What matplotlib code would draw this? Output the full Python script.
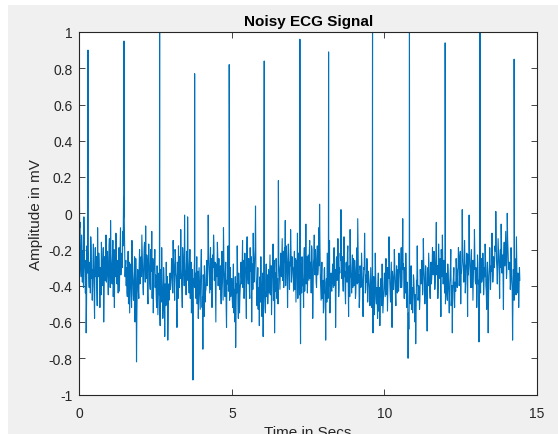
import numpy as np
import matplotlib
matplotlib.use("Agg")
import matplotlib.pyplot as plt
from matplotlib.patches import Rectangle

# ---- data ----
sample_period_s = 0.025          # each noise list: 40 samples per second
offset_b_s = 0.0125              # second list sits half a sample later

amplitude_mv = [
    0.18, -0.05, -0.31, -0.12, -0.38, -0.21, -0.02, -0.29, -0.44, -0.66, -0.18, -0.33,
    -0.22, -0.41, -0.27, -0.13, -0.36, -0.48, -0.25, -0.33, -0.58, -0.19, -0.30, -0.42,
    -0.08, -0.35, -0.27, -0.52, -0.31, -0.16, -0.40, -0.29, -0.60, -0.24, -0.37, -0.12,
    -0.34, -0.21, -0.45, -0.18, -0.30, -0.04, -0.27, -0.39, -0.15, -0.33, -0.52, -0.23,
    -0.11, -0.36, -0.26, -0.44, -0.19, -0.31, -0.08, -0.29,
    -0.22, -0.10, 0.09, -0.05, -0.35, -0.26,
    -0.30, -0.46, -0.21, -0.39, -0.55, -0.28, -0.42, -0.15, -0.36, -0.48, -0.31, -0.60,
    -0.25, -0.82, -0.40, -0.33, -0.47, -0.20,
    -0.38, -0.24, -0.12, -0.33, -0.45, -0.19, -0.28, -0.07, -0.36, -0.26, -0.50, -0.17,
    -0.31, -0.42, -0.22, -0.10, -0.35, -0.55, -0.27, -0.20,
    -0.34, -0.48, -0.29, -0.56, -0.38, -0.45, -0.62, -0.31, -0.19, -0.44, -0.52, -0.36,
    -0.68, -0.41, -0.27, -0.50, -0.70, -0.39, -0.46, -0.33,
    -0.40, -0.25, -0.37, -0.15, -0.30, -0.48, -0.22, -0.35, -0.63, -0.28, -0.18, -0.41,
    -0.32, -0.09, -0.36, -0.52, -0.24, -0.30, -0.01, -0.38, -0.45, -0.21,
    -0.02, -0.29, -0.44, -0.20, -0.38, -0.55, -0.31, -0.92, -0.40, -0.26,
    -0.33, -0.47, -0.24, -0.41, -0.58, -0.30, -0.45, -0.36, -0.20, -0.52, -0.75, -0.38,
    -0.29, -0.49, -0.42, -0.26,
    -0.35, -0.01, -0.28, -0.44, -0.19, -0.33, -0.52, -0.23, -0.12, -0.37, -0.27, -0.60,
    -0.31, -0.16, -0.40, -0.25,
    -0.42, -0.29, -0.50, -0.21, -0.37, -0.08, -0.33, -0.46, -0.27, -0.63, -0.39, -0.18,
    -0.35, -0.48, -0.30, -0.41,
    -0.36, -0.52, -0.28, -0.45, -0.60, -0.74, -0.39, -0.18, -0.48, -0.33, -0.55, -0.41,
    -0.27, -0.39, -0.15, -0.34, -0.47, -0.22, -0.30, -0.58, -0.13, -0.36, -0.25, -0.43,
    -0.19, -0.32, -0.60, -0.28, -0.11, -0.38, -0.24, 0.04,
    -0.37, -0.51, -0.30, -0.45, -0.62, -0.35, -0.24, -0.48, -0.40, -0.68, -0.33, -0.46,
    -0.55, -0.28, -0.42, -0.50,
    -0.31, -0.44, -0.23, -0.38, -0.56, -0.29, -0.17, -0.40, -0.66, -0.33, -0.25, -0.47,
    -0.36, 0.18, -0.30, -0.42,
    -0.22, -0.35, -0.14, -0.29, -0.41, -0.19, -0.04, -0.31, -0.25, -0.52, -0.17, -0.33,
    -0.27, -0.09, -0.38, -0.24,
    -0.30, -0.43, -0.21, -0.36, -0.49, -0.26, -0.11, -0.38, -0.29, -0.45, -0.72, -0.33,
    -0.24, -0.40, -0.52, -0.19, -0.35, -0.06, -0.31, -0.44,
    -0.23, -0.37, -0.15, -0.30, -0.44, -0.20, -0.58, -0.27, -0.12, -0.34, -0.25, -0.41,
    -0.18, -0.31, -0.08, 0.05,
    -0.35, -0.48, -0.27, -0.42, -0.55, -0.31, -0.44, -0.70, -0.36, -0.22, -0.47, -0.38,
    -0.15, -0.51, -0.33, -0.43,
    -0.28, -0.41, -0.19, -0.35, -0.63, -0.25, -0.37, -0.14, -0.46, -0.30, -0.22, 0.02,
    -0.36, -0.24, -0.43, -0.13, -0.32, -0.50, -0.27, -0.38, -0.18, -0.57, -0.29, -0.09,
    -0.35, -0.44, -0.23, -0.31,
    -0.40, -0.26, -0.47, -0.33, -0.19, -0.03, -0.38, -0.52, -0.29, -0.41, -0.22, -0.36,
    -0.57, -0.30, -0.11, -0.44, -0.34, -0.25, -0.49, -0.32,
    -0.38, -0.51, -0.30, -0.45, -0.40, -0.66, -0.35, -0.53, -0.22, -0.47, -0.41, -0.58,
    -0.33, -0.49, -0.62, -0.37, -0.44, -0.28, -0.55, -0.42,
    -0.33, -0.46, -0.25, -0.40, -0.54, -0.30, -0.13, -0.38, -0.49, -0.27, -0.63, -0.35,
    -0.42, -0.20, -0.36, -0.51, -0.29, -0.44, -0.31, -0.22,
    -0.30, -0.41, -0.19, -0.36, -0.03, -0.28, -0.47, -0.33, -0.22, -0.52, -0.38, -0.80,
    -0.64, -0.38, -0.50, -0.29, -0.46, -0.55, -0.34, -0.42, -0.60, -0.72, -0.37, -0.18,
    -0.48, -0.40, -0.53, -0.31,
    -0.39, -0.26, -0.45, -0.14, -0.33, -0.50, -0.29, -0.41, -0.65, -0.30, -0.22, -0.38,
    -0.47, -0.27, -0.36, -0.19,
    -0.34, -0.21, -0.42, -0.28, -0.05, -0.32, -0.47, -0.17, -0.36, -0.25, -0.57, -0.30,
    -0.12, -0.39, -0.26, -0.44,
    -0.50, -0.33, -0.45, -0.28, -0.41, -0.55, -0.36, -0.20, -0.47, -0.66, -0.38, -0.30,
    -0.52, -0.42, -0.25, -0.37,
    -0.31, -0.19, -0.40, -0.25, -0.50, -0.33, 0.02, -0.27, -0.38, -0.15, -0.44, -0.29,
    -0.22, -0.57, -0.34, -0.01,
    -0.28, -0.41, -0.20, -0.35, -0.48, -0.26, -0.09, -0.37, -0.30, -0.52, -0.23, -0.39,
    -0.71, -0.33, -0.44, -0.25,
    -0.36, -0.22, -0.45, -0.30, -0.17, -0.40, -0.53, -0.27, -0.66, -0.34, -0.19, -0.42,
    -0.29, -0.11, -0.38, -0.24,
    -0.30, -0.18, 0.01, -0.27, -0.39, -0.14, -0.25, -0.47, -0.20, -0.06, -0.33, -0.23,
    -0.53, -0.16, -0.29, -0.10, -0.36, 0.00, -0.21, -0.31,
    -0.27, -0.42, -0.19, -0.36, -0.70, -0.31, -0.48, -0.25, -0.39, -0.13, -0.44, -0.33,
    -0.52, -0.30,
]

amplitude_mv_b = [
    -0.08, -0.22, -0.35, -0.19, -0.28, -0.41, -0.15, -0.33, -0.26, -0.50, -0.30, -0.21,
    -0.36, -0.28, -0.44, -0.20, -0.31, -0.39, -0.17, -0.46, -0.29, -0.35, -0.24, -0.51,
    -0.33, -0.22, -0.40, -0.30, -0.45, -0.26, -0.34, -0.19, -0.42, -0.31, -0.27, -0.38,
    -0.25, -0.37, -0.30, -0.14, -0.41, -0.22, -0.33, -0.26, -0.46, -0.20, -0.29, -0.35,
    -0.17, -0.39, -0.31, -0.24, -0.43, -0.21, -0.34, -0.27,
    -0.30, -0.18, -0.02, -0.20, -0.29, -0.40,
    -0.44, -0.33, -0.50, -0.27, -0.41, -0.35, -0.52, -0.30, -0.45, -0.38, -0.24, -0.47,
    -0.36, -0.55, -0.31, -0.43, -0.28, -0.39,
    -0.27, -0.35, -0.22, -0.41, -0.29, -0.16, -0.38, -0.31, -0.23, -0.44, -0.33, -0.26,
    -0.39, -0.20, -0.32, -0.47, -0.25, -0.36, -0.30, -0.41,
    -0.40, -0.52, -0.37, -0.47, -0.33, -0.55, -0.42, -0.49, -0.36, -0.58, -0.30, -0.45,
    -0.39, -0.51, -0.44, -0.35, -0.57, -0.48, -0.38, -0.42,
    -0.35, -0.29, -0.44, -0.26, -0.38, -0.20, -0.33, -0.41, -0.27, -0.47, -0.31, -0.24,
    -0.36, -0.30, -0.43, -0.19, -0.34, -0.40, -0.25, -0.32, -0.28, -0.37,
    -0.24, -0.38, -0.31, -0.47, -0.27, -0.42, -0.50, -0.36, -0.33, -0.41,
    -0.42, -0.35, -0.50, -0.32, -0.44, -0.38, -0.53, -0.29, -0.41, -0.46, -0.34, -0.57,
    -0.37, -0.43, -0.31, -0.40,
    -0.27, -0.21, -0.36, -0.31, -0.42, -0.25, -0.38, -0.30, -0.18, -0.33, -0.45, -0.28,
    -0.35, -0.23, -0.32, -0.39,
    -0.33, -0.45, -0.38, -0.30, -0.48, -0.25, -0.40, -0.34, -0.51, -0.37, -0.29, -0.43,
    -0.32, -0.39, -0.46, -0.36,
    -0.47, -0.39, -0.55, -0.42, -0.35, -0.50, -0.44, -0.31, -0.58, -0.40, -0.46, -0.38,
    -0.35, -0.29, -0.41, -0.26, -0.37, -0.31, -0.44, -0.21, -0.33, -0.39, -0.28, -0.47,
    -0.30, -0.24, -0.36, -0.42, -0.27, -0.32, -0.19, -0.30,
    -0.45, -0.38, -0.53, -0.41, -0.36, -0.49, -0.44, -0.57, -0.33, -0.47, -0.40, -0.52,
    -0.37, -0.46, -0.34, -0.44,
    -0.38, -0.32, -0.45, -0.29, -0.41, -0.35, -0.48, -0.26, -0.39, -0.43, -0.31, -0.37,
    -0.50, -0.28, -0.36, -0.33,
    -0.31, -0.24, -0.37, -0.21, -0.33, -0.27, -0.40, -0.18, -0.30, -0.35, -0.23, -0.42,
    -0.29, -0.20, -0.34, -0.30,
    -0.36, -0.29, -0.42, -0.25, -0.38, -0.31, -0.47, -0.22, -0.35, -0.40, -0.28, -0.44,
    -0.32, -0.37, -0.26, -0.43, -0.30, -0.39, -0.24, -0.34,
    -0.30, -0.22, -0.36, -0.27, -0.18, -0.33, -0.41, -0.25, -0.31, -0.20, -0.38, -0.28,
    -0.34, -0.23, -0.29, -0.19,
    -0.41, -0.34, -0.47, -0.37, -0.52, -0.30, -0.43, -0.38, -0.49, -0.33, -0.44, -0.40,
    -0.55, -0.35, -0.42, -0.37,
    -0.34, -0.27, -0.40, -0.31, -0.45, -0.24, -0.36, -0.29, -0.42, -0.33, -0.26, -0.20,
    -0.30, -0.38, -0.26, -0.35, -0.43, -0.28, -0.33, -0.22, -0.40, -0.31, -0.46, -0.27,
    -0.36, -0.30, -0.41, -0.25,
    -0.37, -0.31, -0.44, -0.28, -0.39, -0.22, -0.34, -0.47, -0.33, -0.40, -0.29, -0.45,
    -0.36, -0.31, -0.26, -0.42, -0.38, -0.30, -0.43, -0.35,
    -0.42, -0.48, -0.37, -0.52, -0.45, -0.40, -0.56, -0.43, -0.34, -0.50, -0.46, -0.39,
    -0.54, -0.41, -0.47, -0.36, -0.51, -0.44, -0.49, -0.38,
    -0.39, -0.33, -0.45, -0.30, -0.42, -0.36, -0.27, -0.44, -0.38, -0.48, -0.32, -0.41,
    -0.35, -0.29, -0.46, -0.37, -0.40, -0.33, -0.43, -0.31,
    -0.35, -0.28, -0.41, -0.24, -0.31, -0.37, -0.30, -0.44, -0.33, -0.39, -0.46, -0.55,
    -0.50, -0.44, -0.39, -0.53, -0.41, -0.47, -0.36, -0.49, -0.45, -0.56, -0.40, -0.33,
    -0.46, -0.42, -0.48, -0.38,
    -0.37, -0.31, -0.42, -0.27, -0.38, -0.44, -0.33, -0.48, -0.36, -0.40, -0.29, -0.43,
    -0.34, -0.39, -0.30, -0.33,
    -0.32, -0.27, -0.38, -0.22, -0.34, -0.29, -0.41, -0.25, -0.31, -0.36, -0.20, -0.35,
    -0.28, -0.33, -0.38, -0.30,
    -0.42, -0.36, -0.48, -0.33, -0.45, -0.39, -0.30, -0.51, -0.40, -0.44, -0.35, -0.47,
    -0.38, -0.43, -0.32, -0.41,
    -0.30, -0.24, -0.35, -0.21, -0.33, -0.27, -0.18, -0.31, -0.36, -0.25, -0.39, -0.28,
    -0.32, -0.23, -0.29, -0.20,
    -0.34, -0.29, -0.41, -0.26, -0.36, -0.31, -0.22, -0.39, -0.33, -0.44, -0.28, -0.37,
    -0.47, -0.35, -0.30, -0.38,
    -0.33, -0.28, -0.39, -0.35, -0.25, -0.43, -0.31, -0.37, -0.46, -0.30, -0.26, -0.36,
    -0.32, -0.23, -0.34, -0.29,
    -0.26, -0.21, -0.15, -0.31, -0.28, -0.20, -0.33, -0.24, -0.30, -0.17, -0.27, -0.35,
    -0.22, -0.29, -0.19, -0.25, -0.32, -0.14, -0.27, -0.30,
    -0.33, -0.38, -0.29, -0.43, -0.47, -0.36, -0.40, -0.31, -0.45, -0.27, -0.39, -0.35,
    -0.42, -0.37,
]

# R-peaks (time in s, amplitude in mV)
peak_times = [0.285, 1.464, 2.633, 3.780, 4.913, 6.060, 7.230, 8.170,
              9.610, 10.820, 11.990, 13.130, 14.250]
peak_values = [0.90, 0.95, 1.00, 0.77, 0.82, 0.84, 0.96, 0.89,
               1.00, 1.00, 0.94, 1.00, 0.85]

x_ticks = [0, 5, 10, 15]
y_ticks = [-1, -0.8, -0.6, -0.4, -0.2, 0, 0.2, 0.4, 0.6, 0.8, 1]
y_tick_labels = ["-1", "-0.8", "-0.6", "-0.4", "-0.2", "0", "0.2", "0.4", "0.6", "0.8", "1"]

# ---- build series ----
t_a = np.arange(len(amplitude_mv)) * sample_period_s
t_b = np.arange(len(amplitude_mv_b)) * sample_period_s + offset_b_s
t_all = np.concatenate([t_a, t_b, np.array(peak_times)])
v_all = np.concatenate([np.array(amplitude_mv), np.array(amplitude_mv_b), np.array(peak_values)])
order = np.argsort(t_all, kind="stable")
t_all, v_all = t_all[order], v_all[order]

# ---- figure ----
plt.rcParams['font.family'] = ['Liberation Sans', 'DejaVu Sans']
W, H = 558, 435
fig = plt.figure(figsize=(W / 100, H / 100), dpi=100, facecolor="white")
fig.patches.append(Rectangle((7.5 / W, 0), 1, (H - 6) / H, transform=fig.transFigure,
                             facecolor="#f0f0f0", edgecolor="none", zorder=-10))

ax = fig.add_axes([79.3 / W, 1 - 395.5 / H, (537 - 79.3) / W, (395.5 - 33) / H])
ax.set_facecolor("white")
ax.plot(t_all, v_all, color="#0072BD", linewidth=0.8)

ax.set_xlim(0, 15)
ax.set_ylim(-1, 1)
ax.set_xticks(x_ticks)
ax.set_yticks(y_ticks)
ax.set_yticklabels(y_tick_labels)

edge = "#262626"
for s in ax.spines.values():
    s.set_color(edge)
    s.set_linewidth(0.8)
ax.tick_params(direction="in", length=4.5, width=0.6, colors=edge, labelsize=10,
               top=True, right=True)
ax.tick_params(axis="x", pad=8)
ax.tick_params(axis="y", pad=5)

ax.set_title("Noisy ECG Signal", fontsize=11, fontweight="bold", color="black", pad=5)
ax.set_xlabel("Time in Secs", fontsize=11, color=edge, labelpad=4)
ax.set_ylabel("Amplitude in mV", fontsize=11, color=edge, labelpad=4)

fig.savefig("out.png", dpi=100, facecolor=fig.get_facecolor())
